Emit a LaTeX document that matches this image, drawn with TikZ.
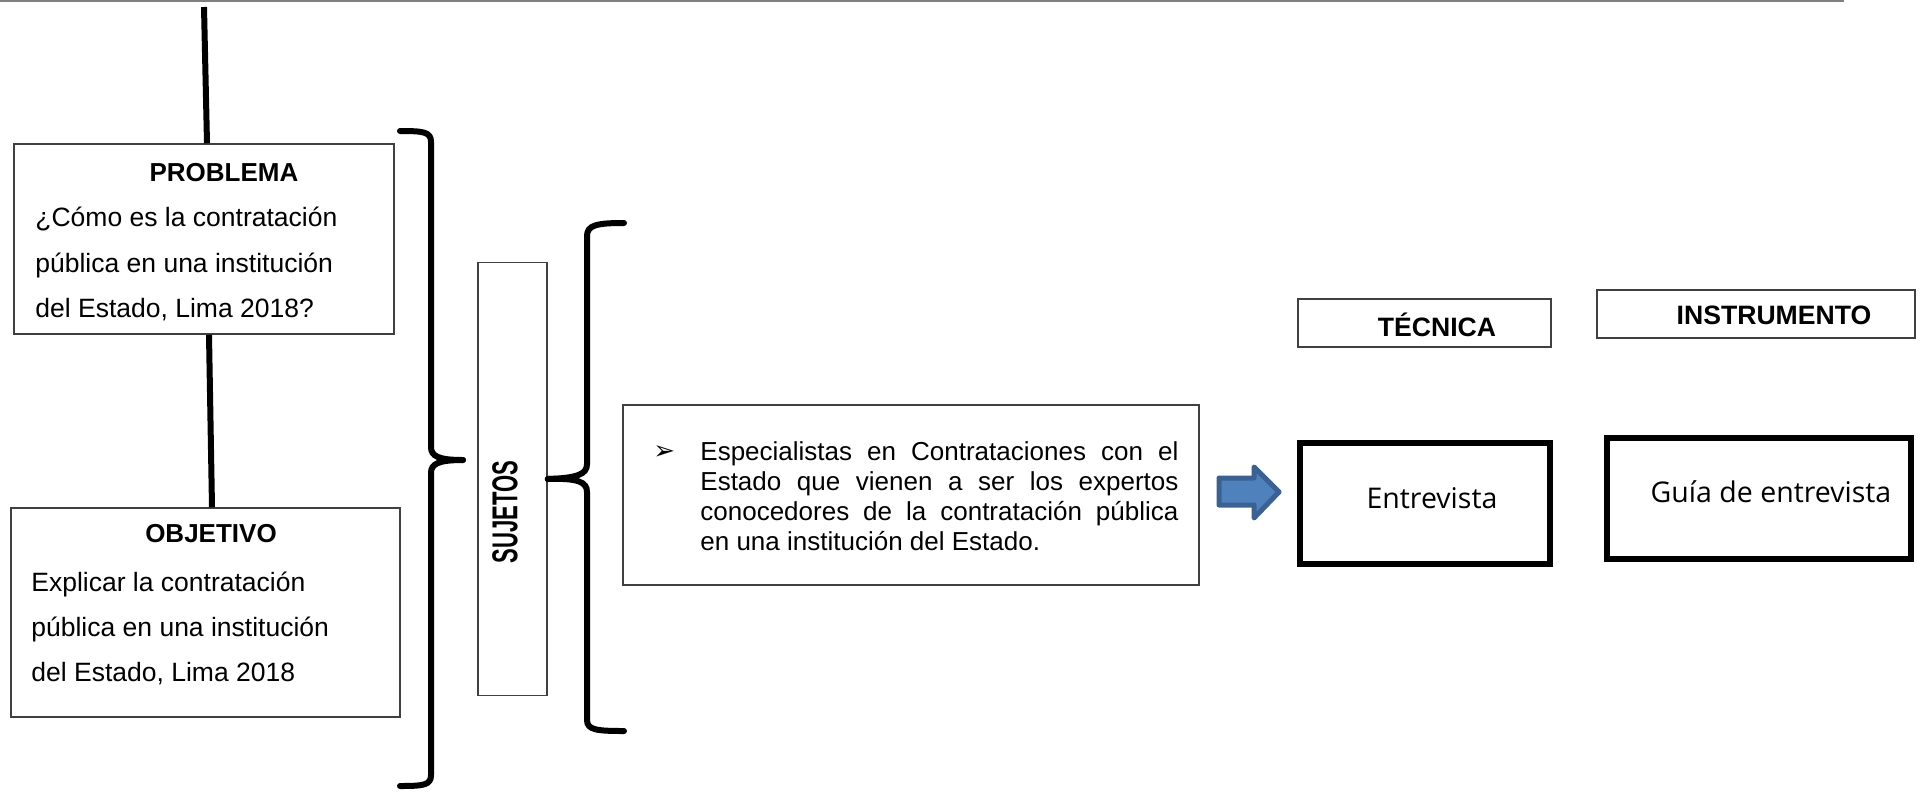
\documentclass[tikz,border=0pt]{standalone}
\usepackage{fontspec}
\usepackage{graphicx}
\setmainfont{Liberation Sans}
\newfontfamily\osans{Open Sans}
\newfontfamily\djv{DejaVu Sans}
\newlength\upx
\setlength\upx{0.5bp}
\definecolor{arrfill}{HTML}{4F81BD}
\definecolor{arrdraw}{HTML}{3A6192}
\tikzset{
  thinbox/.style={draw=black!75, line width=1.5\upx, inner sep=0pt},
  thickbox/.style={draw=black, line width=6\upx, inner sep=0pt},
  conn/.style={draw=black, line width=6\upx},
  bracepath/.style={draw=black, line width=6\upx, line cap=round},
  bodytxt/.style={anchor=base west, inner sep=0pt, font=\fontsize{13.25bp}{16bp}\selectfont},
  titletxt/.style={anchor=base, inner sep=0pt, font=\bfseries\fontsize{13bp}{16bp}\selectfont},
  esptxt/.style={anchor=base west, inner sep=0pt, font=\fontsize{13bp}{15bp}\selectfont},
}
\begin{document}
\begin{tikzpicture}[x=0.5bp,y=-0.5bp]
\useasboundingbox (0,0) rectangle (1922,791);
% top rule
\draw[draw=black!50, line width=2\upx] (0,1) -- (1844,1);

% boxes
\node[thinbox, minimum width=380\upx, minimum height=190\upx] (prob) at (204,239) {};
\node[thinbox, minimum width=389\upx, minimum height=209\upx] (obj) at (205.5,612.5) {};
\node[thinbox, minimum width=69\upx, minimum height=433\upx] (suj) at (512.5,479) {};
\node[thinbox, minimum width=576\upx, minimum height=180\upx] (esp) at (911,495) {};
\node[thinbox, minimum width=253\upx, minimum height=48\upx] (tec) at (1424.5,323) {};
\node[thinbox, minimum width=318\upx, minimum height=48\upx] (ins) at (1756,314) {};
\node[thickbox, minimum width=250\upx, minimum height=121\upx] (ent) at (1425,503.5) {};
\node[thickbox, minimum width=304\upx, minimum height=121\upx] (gui) at (1759,498.5) {};

% PROBLEMA text
\node[titletxt] (probt) at (224,181) {PROBLEMA};
\node[bodytxt] (prob1) at (35,226) {¿Cómo es la contratación};
\node[bodytxt] (prob2) at (35,272) {pública en una institución};
\node[bodytxt] (prob3) at (35,317) {del Estado, Lima 2018?};

% OBJETIVO text
\node[titletxt] (objt) at (211,542) {OBJETIVO};
\node[bodytxt] (obj1) at (31,591) {Explicar la contratación};
\node[bodytxt] (obj2) at (31,636) {pública en una institución};
\node[bodytxt] (obj3) at (31,681) {del Estado, Lima 2018};

% SUJETOS
\node[rotate=90, inner sep=0pt] (sujt) at (505,512) {\scalebox{0.613}[1]{\bfseries\fontsize{18bp}{18bp}\selectfont SUJETOS}};

% Especialistas text
\node[anchor=base west, inner sep=0pt, font=\djv\fontsize{13bp}{14bp}\selectfont] (bul) at (653,459) {➢};
\node[esptxt] (esp1) at (700,460) {\makebox[239bp][s]{Especialistas en Contrataciones con el}};
\node[esptxt] (esp2) at (700,490) {\makebox[239bp][s]{Estado que vienen a ser los expertos}};
\node[esptxt] (esp3) at (700,520) {\makebox[239bp][s]{conocedores de la contratación pública}};
\node[esptxt] (esp4) at (700,550) {en una institución del Estado.};

% headers
\node[titletxt, font=\bfseries\fontsize{13.3bp}{15bp}\selectfont] (tect) at (1437,336) {TÉCNICA};
\node[titletxt, font=\bfseries\fontsize{13.3bp}{15bp}\selectfont] (inst) at (1774,324.5) {INSTRUMENTO};
\node[anchor=base, inner sep=0pt, font=\osans\fontsize{14.25bp}{16bp}\selectfont] (entt) at (1432,508) {Entrevista};
\node[anchor=base, inner sep=0pt, font=\osans\fontsize{14.25bp}{16bp}\selectfont] (guit) at (1771,502) {Guía de entrevista};

% connectors
\coordinate (topend) at (204,7);
\draw[conn] (topend) -- ([xshift=1.5bp]prob.north);
\draw[conn] ([xshift=2.5bp]prob.south) -- ([xshift=3.25bp]obj.north);

% big right bracket
\coordinate (bigtip) at (463,460);
\draw[bracepath] (400,131) .. controls (424,131) and (431,132) .. (431,142) -- (431,447)
   .. controls (431,456) and (438,460) .. (bigtip);
\draw[bracepath] (bigtip) .. controls (438,460) and (431,464) .. (431,473) -- (431,775)
   .. controls (431,785) and (424,786) .. (400,786);

% left brace to SUJETOS
\draw[bracepath] (624,223) .. controls (597,223) and (587,225) .. (587,236) -- (587,464)
   .. controls (587,474) and (578,478) .. (suj.east);
\draw[bracepath] (suj.east) .. controls (578,478) and (587,482) .. (587,492) -- (587,720)
   .. controls (587,730) and (597,731) .. (624,731);

% block arrow
\draw[fill=arrfill, draw=arrdraw, line width=5\upx, line join=round]
  (1219,478) -- (1254,478) -- (1254,467) -- (1279,492) -- (1254,518) -- (1254,505) -- (1219,505) -- cycle;
\end{tikzpicture}
\end{document}
